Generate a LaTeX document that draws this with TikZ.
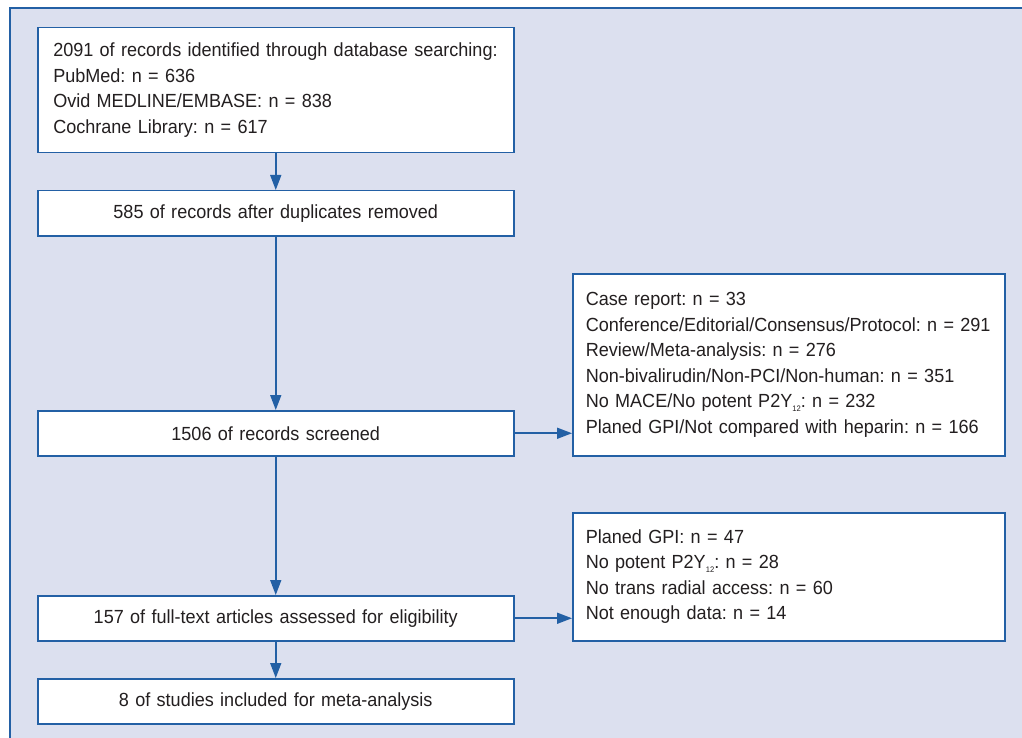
\documentclass[tikz,border=0pt]{standalone}
\usepackage{fontspec}
\setmainfont{Liberation Sans}[FakeStretch=0.95]
\usetikzlibrary{arrows.meta}
\definecolor{bgc}{HTML}{DCE0EF}
\definecolor{bluec}{HTML}{2360A5}
\definecolor{txt}{HTML}{231F20}
\newcommand{\subtw}{\raisebox{-3.5pt}{\fontsize{8}{8}\selectfont 12}}
\frenchspacing
\begin{document}
\begin{tikzpicture}[x=1pt,y=-1pt,
  box/.style={draw=bluec, line width=1.5pt, fill=white, text=txt,
    font=\fontsize{19}{25.5}\selectfont\frenchspacing, anchor=north west, inner ysep=0pt},
  lbox/.style={box, align=left, inner xsep=14pt, text width=448pt, minimum width=476pt},
  cbox/.style={box, align=center, inner xsep=16pt, text width=444pt, minimum width=476pt, minimum height=45pt},
  rbox/.style={box, align=left, inner xsep=13pt, text width=406pt, minimum width=432pt},
  arr/.style={draw=bluec, line width=1.6pt, -{Triangle[length=15pt,width=11pt]}}]
\useasboundingbox (0,0) rectangle (1022,738);
\fill[bgc] (10,8) rectangle (1022,738);
\draw[bluec, line width=1.5pt] (1022,8) -- (10,8) -- (10,738);

\node[lbox, minimum height=125pt] (b1) at (37,27) {\hspace*{1.5pt}2091 of records identified through database searching:\\
\hspace*{1.5pt}PubMed: n = 636\\
\hspace*{1.5pt}Ovid MEDLINE/EMBASE: n = 838\\
\hspace*{1.5pt}Cochrane Library: n = 617};
\node[cbox] (b2) at (37,190) {585 of records after duplicates removed};
\node[cbox] (b3) at (37,410) {1506 of records screened};
\node[cbox] (b4) at (37,595) {157 of full-text articles assessed for eligibility};
\node[cbox] (b5) at (37,678) {8 of studies included for meta-analysis};

\node[rbox, minimum height=182pt] (r1) at (572,273) {Case report: n = 33\\
Conference/Editorial/Consensus/Protocol: n = 291\\
Review/Meta-analysis: n = 276\\
Non-bivalirudin/Non-PCI/Non-human: n = 351\\
No MACE/No potent P2Y\subtw: n = 232\\
Planed GPI/Not compared with heparin: n = 166};
\node[rbox, minimum height=128pt] (r2) at (572,512) {Planed GPI: n = 47\\
No potent P2Y\subtw: n = 28\\
No trans radial access: n = 60\\
Not enough data: n = 14};

\draw[arr] (b1.south) -- (b2.north);
\draw[arr] (b2.south) -- (b3.north);
\draw[arr] (b3.south) -- (b4.north);
\draw[arr] (b4.south) -- (b5.north);
\draw[arr] (b3.east) -- (b3.east -| r1.west);
\draw[arr] (b4.east) -- (b4.east -| r2.west);
\end{tikzpicture}
\end{document}
